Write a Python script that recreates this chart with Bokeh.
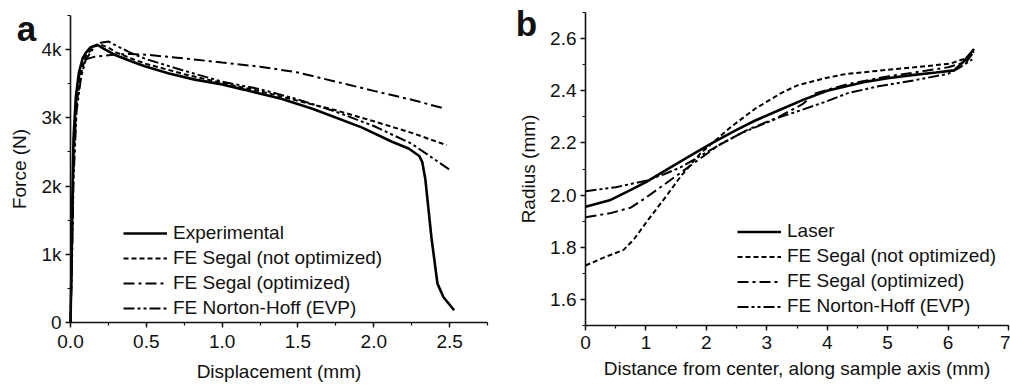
from bokeh.plotting import figure
from bokeh.layouts import row
from bokeh.models import Range1d, Legend, LegendItem, Label, SingleIntervalTicker
from bokeh.embed import file_html
from bokeh.resources import INLINE

FONT = "Liberation Sans"

# ---------------- Panel a data: Force (N) vs Displacement (mm)
exp_x = [0, 0.005, 0.012, 0.02, 0.035, 0.055, 0.08, 0.1, 0.13, 0.177, 0.23, 0.29, 0.4, 0.49,
         0.65, 0.82, 1.0, 1.15, 1.26, 1.39, 1.6, 1.92, 2.12, 2.23, 2.3, 2.32, 2.34, 2.38,
         2.42, 2.46, 2.53]
exp_f = [0, 600, 1800, 2700, 3300, 3660, 3870, 3950, 4030, 4070, 4000, 3925, 3830, 3755,
         3650, 3560, 3490, 3410, 3350, 3280, 3130, 2860, 2650, 2550, 2440, 2350, 2100, 1250,
         570, 370, 180]

segn_x = [0, 0.01, 0.02, 0.04, 0.07, 0.1, 0.15, 0.19, 0.25, 0.3, 0.4, 0.5, 0.75, 1.0, 1.25,
          1.5, 1.75, 2.0, 2.25, 2.48]
segn_f = [0, 1000, 2300, 3200, 3650, 3900, 4040, 4080, 4030, 3960, 3870, 3790, 3640, 3510,
          3390, 3250, 3110, 2950, 2780, 2600]

sego_x = [0, 0.01, 0.02, 0.04, 0.07, 0.1, 0.15, 0.22, 0.3, 0.4, 0.5, 0.8, 1.0, 1.25, 1.5,
          1.75, 2.0, 2.25, 2.47]
sego_f = [0, 1200, 2500, 3400, 3750, 3860, 3890, 3910, 3930, 3935, 3925, 3860, 3810, 3750,
          3665, 3530, 3395, 3265, 3135]

nh_x = [0, 0.01, 0.02, 0.04, 0.07, 0.1, 0.15, 0.2, 0.25, 0.3, 0.4, 0.5, 0.75, 1.0, 1.25,
        1.5, 1.75, 2.0, 2.25, 2.5]
nh_f = [0, 900, 2100, 3100, 3600, 3850, 4020, 4100, 4120, 4060, 3950, 3860, 3690, 3530,
        3420, 3270, 3090, 2880, 2620, 2240]

a_labels = ["Experimental", "FE Segal (not optimized)", "FE Segal (optimized)",
            "FE Norton-Hoff (EVP)"]
a_yticks = {0: "0", 1000: "1k", 2000: "2k", 3000: "3k", 4000: "4k"}
a_xlim = (0, 2.75)
a_ylim = (0, 4500)

# ---------------- Panel b data: Radius (mm) vs distance (mm)
las_x = [0, 0.4, 0.75, 1.0, 1.4, 1.8, 2.1, 2.5, 2.8, 3.2, 3.6, 4.0, 4.6, 5.0, 5.4, 5.8,
         6.1, 6.25, 6.43]
las_r = [1.955, 1.98, 2.02, 2.05, 2.105, 2.16, 2.20, 2.25, 2.285, 2.325, 2.365, 2.40,
         2.433, 2.448, 2.46, 2.47, 2.478, 2.51, 2.56]

bsn_x = [0, 0.3, 0.63, 0.8, 1.02, 1.35, 1.57, 1.9, 2.4, 2.8, 3.23, 3.5, 4.0, 4.33, 5.0,
         5.44, 6.04, 6.3, 6.43]
bsn_r = [1.73, 1.76, 1.79, 1.83, 1.90, 2.00, 2.07, 2.16, 2.26, 2.33, 2.39, 2.42, 2.45,
         2.465, 2.48, 2.49, 2.504, 2.525, 2.55]

bso_x = [0, 0.4, 0.75, 1.0, 1.3, 1.6, 1.85, 2.2, 2.68, 3.2, 3.6, 3.8, 4.33, 5.0, 5.44,
         6.0, 6.3, 6.43]
bso_r = [1.915, 1.93, 1.952, 1.99, 2.04, 2.09, 2.132, 2.19, 2.25, 2.30, 2.35, 2.39, 2.425,
         2.455, 2.47, 2.49, 2.51, 2.55]

bnh_x = [0, 0.5, 1.0, 1.3, 1.57, 1.9, 2.24, 2.6, 2.95, 3.23, 3.56, 4.0, 4.33, 4.8, 5.44,
         6.0, 6.2, 6.4]
bnh_r = [2.015, 2.03, 2.055, 2.08, 2.106, 2.15, 2.196, 2.24, 2.273, 2.30, 2.325, 2.36,
         2.39, 2.415, 2.44, 2.465, 2.49, 2.52]

b_labels = ["Laser", "FE Segal (not optimized)", "FE Segal (optimized)",
            "FE Norton-Hoff (EVP)"]
b_xlim = (0, 7)
b_ylim = (1.5, 2.7)

DASHES = ["solid", "5 3", "11 4 3 4", "11 3 3 3 3 3"]
WIDTHS = [2.6, 2.0, 2.0, 2.0]

W, H = 505, 385


def padded_range(lo, hi, frame_lo_px, frame_hi_px, total_px, flip=False):
    """Extend a data range so that [lo, hi] spans the given pixel interval of the canvas."""
    per = (hi - lo) / (frame_hi_px - frame_lo_px)
    if not flip:
        return Range1d(lo - frame_lo_px * per, hi + (total_px - frame_hi_px) * per)
    return Range1d(lo - (total_px - frame_hi_px) * per, hi + frame_lo_px * per)


def style(p, xlim, ylim):
    p.xaxis.fixed_location = ylim[0]
    p.yaxis.fixed_location = xlim[0]
    p.xaxis.bounds = xlim
    p.yaxis.bounds = ylim
    for ax in (p.xaxis[0], p.yaxis[0]):
        ax.axis_line_width = 1.6
        ax.axis_line_color = "#111111"
        ax.major_tick_line_color = "#111111"
        ax.minor_tick_line_color = "#111111"
        ax.major_tick_line_width = 1.4
        ax.minor_tick_line_width = 1.2
        ax.major_tick_in = 0
        ax.major_tick_out = 5
        ax.minor_tick_in = 0
        ax.minor_tick_out = 3
        ax.major_label_text_font = FONT
        ax.major_label_text_font_size = "19px"
        ax.major_label_text_color = "#111111"
        ax.axis_label_text_font = FONT
        ax.axis_label_text_font_size = "19px"
        ax.axis_label_text_font_style = "normal"
        ax.axis_label_text_color = "#111111"
    p.yaxis.major_label_standoff = 4
    p.yaxis.axis_label_standoff = 8
    p.grid.visible = False
    p.outline_line_color = None
    p.background_fill_color = "white"
    p.border_fill_color = "white"


def make_fig(xr, yr):
    return figure(width=W, height=H, output_backend="svg", toolbar_location=None,
                  x_range=xr, y_range=yr, min_border=0, min_border_left=0,
                  min_border_right=0, min_border_top=0, min_border_bottom=0)


# ---------------- Panel a  (frame px: x 70..487, y 15..322)
pa = make_fig(padded_range(*a_xlim, 70, 487, W), padded_range(*a_ylim, 15, 322, H, flip=True))
pa.xaxis.ticker = SingleIntervalTicker(interval=0.5, num_minor_ticks=2)
pa.yaxis.ticker = SingleIntervalTicker(interval=1000, num_minor_ticks=2)
pa.yaxis.major_label_overrides = {k: v for k, v in a_yticks.items()}
pa.xaxis.major_label_overrides = {v: f"{v:.1f}" for v in [0, 0.5, 1.0, 1.5, 2.0, 2.5]}
pa.xaxis.axis_label = "Displacement (mm)"
pa.yaxis.axis_label = "Force (N)"
style(pa, a_xlim, a_ylim)
pa.xaxis.major_label_standoff = 7
pa.xaxis.axis_label_standoff = 10

a_series = [(exp_x, exp_f), (segn_x, segn_f), (sego_x, sego_f), (nh_x, nh_f)]
items_a = []
for (xs, ys), lab, d, w in zip(a_series, a_labels, DASHES, WIDTHS):
    r = pa.line(xs, ys, line_color="black", line_width=w, line_dash=d)
    items_a.append(LegendItem(label=lab, renderers=[r]))

leg_a = Legend(items=items_a, location=(123, 66), glyph_width=44, glyph_height=22,
               label_height=22, label_standoff=6, spacing=3, padding=0, margin=0,
               border_line_color=None, background_fill_alpha=0,
               label_text_font=FONT, label_text_font_size="19px",
               label_text_color="#111111")
pa.add_layout(leg_a)
pa.add_layout(Label(x=-0.29, y=4310, text="a", text_font=FONT, text_font_size="35px",
                    text_font_style="bold", text_align="center",
                    text_baseline="alphabetic", text_color="#111111"))

# ---------------- Panel b  (frame px: x 80..503, y 12..325)
pb = make_fig(padded_range(*b_xlim, 80, 503, W), padded_range(*b_ylim, 12, 325, H, flip=True))
pb.xaxis.ticker = SingleIntervalTicker(interval=1, num_minor_ticks=2)
pb.yaxis.ticker = SingleIntervalTicker(interval=0.2, num_minor_ticks=2)
pb.yaxis.major_label_overrides = {round(1.6 + 0.2 * i, 1): f"{1.6 + 0.2 * i:.1f}" for i in range(6)}
pb.xaxis.axis_label = "Distance from center, along sample axis (mm)"
pb.yaxis.axis_label = "Radius (mm)"
style(pb, b_xlim, b_ylim)
pb.xaxis.major_label_standoff = 5
pb.xaxis.axis_label_standoff = 6

b_series = [(las_x, las_r), (bsn_x, bsn_r), (bso_x, bso_r), (bnh_x, bnh_r)]
items_b = []
for (xs, ys), lab, d, w in zip(b_series, b_labels, DASHES, WIDTHS):
    r = pb.line(xs, ys, line_color="black", line_width=w, line_dash=d)
    items_b.append(LegendItem(label=lab, renderers=[r]))

leg_b = Legend(items=items_b, location=(232, 68), glyph_width=44, glyph_height=21,
               label_height=21, label_standoff=6, spacing=3, padding=0, margin=0,
               border_line_color=None, background_fill_alpha=0,
               label_text_font=FONT, label_text_font_size="19px",
               label_text_color="#111111")
pb.add_layout(leg_b)
pb.add_layout(Label(x=-0.976, y=2.658, text="b", text_font=FONT, text_font_size="35px",
                    text_font_style="bold", text_align="center",
                    text_baseline="alphabetic", text_color="#111111"))

layout = row(pa, pb)
open("out.html", "w").write(file_html(layout, INLINE))
